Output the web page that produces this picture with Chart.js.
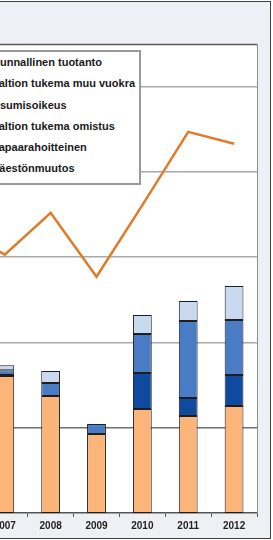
<!DOCTYPE html>
<html>
<head>
<meta charset="utf-8">
<script src="https://cdn.jsdelivr.net/npm/chart.js@4.4.1/dist/chart.umd.min.js"></script>
<style>
  html, body { margin: 0; padding: 0; background: #ffffff; width: 273px; height: 540px; overflow: hidden; position: relative; }
  #frame { position: absolute; left: -20px; top: 1px; width: 289px; height: 536px; border: 1px solid #404040; background: #edf0f4; }
  #wrap { position: absolute; left: -70px; top: 0; width: 343px; height: 540px; }
  #legend { position: absolute; left: -30px; top: 50px; width: 167px; height: 131px; background: #ffffff; border: 2px solid #9a9a9a; font: bold 11px "Liberation Sans", Arial, sans-serif; color: #1a1a1a; }
  #legend div { height: 21.3px; line-height: 21.3px; padding-left: 20px; white-space: nowrap; }
</style>
</head>
<body>
<div id="frame"></div>
<div id="wrap"><canvas id="c"></canvas></div>
<div id="legend"></div>
<script>
// ---- data ----
const years = ["2006", "2007", "2008", "2009", "2010", "2011", "2012"];
const vapaarahoitteinen    = [null, 1607, 1372, 926, 1220, 1138, 1255];
const valtionTukemaOmistus = [null, 0, 0, 0, 0, 0, 0];
const asumisoikeus         = [null, 12, 0, 0, 422, 211, 364];
const valtionMuuVuokra     = [null, 55, 152, 117, 457, 903, 645];
const kunnallinenTuotanto  = [null, 60, 141, 0, 223, 235, 399];
const vaestonmuutos        = [2340, 2030, 2520, 1770, 2610, 3470, 3330];
const gridValues = [1000, 2000, 3000, 4000, 5000];
const legendLabels = ["Kunnallinen tuotanto", "Valtion tukema muu vuokra", "Asumisoikeus", "Valtion tukema omistus", "Vapaarahoitteinen", "Väestönmuutos"];

// ---- legend (text only; swatches fall outside the visible crop) ----
const lg = document.getElementById('legend');
legendLabels.forEach(t => { const d = document.createElement('div'); d.textContent = t; lg.appendChild(d); });

const plotBg = {
  id: 'plotBg',
  beforeDraw(chart) {
    const {ctx, chartArea: a} = chart;
    ctx.save();
    ctx.fillStyle = '#ffffff';
    ctx.fillRect(a.left, a.top, a.right - a.left, a.bottom - a.top);
    ctx.restore();
  },
  afterDatasetsDraw(chart) {
    const {ctx, chartArea: a} = chart;
    ctx.save();
    ctx.strokeStyle = '#5a5a5a';
    ctx.lineWidth = 1.5;
    ctx.beginPath();
    ctx.moveTo(a.left, a.top + 0.5);
    ctx.lineTo(a.right, a.top + 0.5);
    ctx.stroke();
    ctx.strokeStyle = '#8f8f8f';
    ctx.lineWidth = 1;
    ctx.beginPath();
    ctx.moveTo(a.right + 0.5, a.top);
    ctx.lineTo(a.right + 0.5, a.bottom);
    ctx.stroke();
    ctx.restore();
  }
};

const barBorder = '#1e1e1e';
function barSet(label, data, color) {
  return { type: 'bar', label, data, backgroundColor: color, borderColor: barBorder, borderWidth: 1, borderSkipped: false, yAxisID: 'y', stack: 's', order: 2, categoryPercentage: 1, barPercentage: 0.41 };
}

Chart.defaults.font.family = '"Liberation Sans", Arial, sans-serif';
new Chart(document.getElementById('c'), {
  data: {
    labels: years,
    datasets: [
      barSet(legendLabels[4], vapaarahoitteinen, '#fbb57b'),
      barSet(legendLabels[3], valtionTukemaOmistus, '#7f7f7f'),
      barSet(legendLabels[2], asumisoikeus, '#0f4a9e'),
      barSet(legendLabels[1], valtionMuuVuokra, '#4a7cc6'),
      barSet(legendLabels[0], kunnallinenTuotanto, '#c9d9f0'),
      { type: 'line', label: legendLabels[5], data: vaestonmuutos, borderColor: '#e07b28', borderWidth: 2.5, pointRadius: 0, tension: 0, yAxisID: 'y1', order: 0, fill: false }
    ]
  },
  options: {
    responsive: true,
    maintainAspectRatio: false,
    animation: false,
    layout: { padding: { left: 6, right: 16, top: 44, bottom: 0 } },
    plugins: { legend: { display: false }, tooltip: { enabled: false } },
    scales: {
      x: {
        type: 'category',
        offset: true,
        grid: { display: true, drawOnChartArea: false, drawTicks: true, tickLength: 4, color: '#555555', offset: true },
        border: { display: true, color: '#555555', width: 1.5 },
        ticks: { color: '#222222', font: { size: 10, weight: 'bold' }, padding: 3, maxRotation: 0, autoSkip: false },
        afterFit(scale) { scale.height = 27; }
      },
      y: {
        stacked: true,
        min: 0, max: 5500,
        ticks: { display: false },
        border: { display: false },
        afterBuildTicks(scale) { scale.ticks = gridValues.map(v => ({ value: v })); },
        grid: {
          drawTicks: false,
          lineWidth: 1.5,
          color: (c) => (c.tick && c.tick.value === 1000) ? '#6e6e6e' : '#a9a9a9'
        },
        afterFit(scale) { scale.width = 0; }
      },
      y1: { display: false, min: -1000, max: 4500 }
    }
  },
  plugins: [plotBg]
});
</script>
</body>
</html>
